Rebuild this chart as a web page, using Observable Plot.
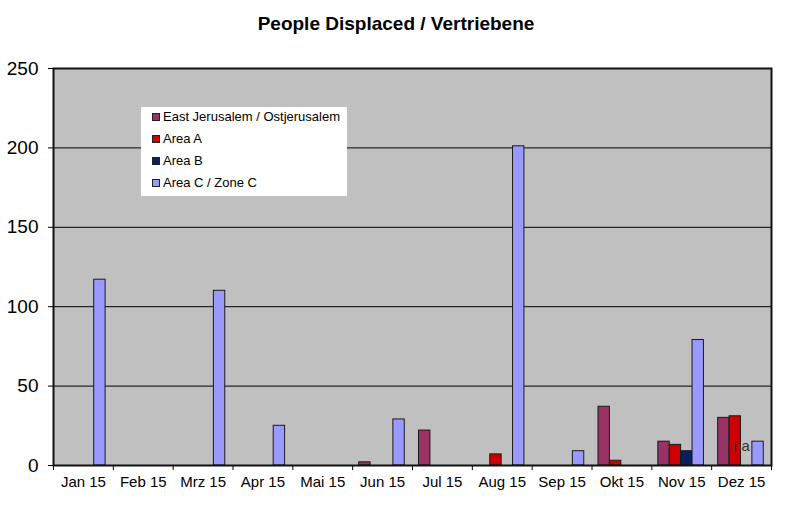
<!DOCTYPE html>
<html>
<head>
<meta charset="utf-8">
<script src="https://cdn.jsdelivr.net/npm/d3@7"></script>
<script src="https://cdn.jsdelivr.net/npm/@observablehq/plot@0.6"></script>
<style>
  body { margin: 0; background: #fff; font-family: Arial, "Liberation Sans", sans-serif; }
  #wrap { position: relative; width: 800px; height: 518px; }
  #title { height: 40px; box-sizing: border-box; padding-top: 13px; padding-right: 8px; text-align: center; font-weight: bold; font-size: 19px; color: #000; }
  #legend { position: absolute; left: 141px; top: 107px; width: 206px; height: 89px; background: #fff; font-size: 13px; color: #000; }
  #legend .row { position: relative; height: 22px; line-height: 22px; display: flex; align-items: center; }
  #legend .sw { width: 6px; height: 6px; border: 1px solid #222; margin-left: 11px; margin-right: 3px; }
  svg { display: block; }
</style>
</head>
<body>
<div id="wrap">
  <div id="title">People Displaced / Vertriebene</div>
  <div id="chart"></div>
  <div id="legend"><div id="legend-inner" style="position:relative;top:-1px"></div></div>
</div>
<script>
// ---- data ----
const months = ["Jan 15", "Feb 15", "Mrz 15", "Apr 15", "Mai 15", "Jun 15", "Jul 15", "Aug 15", "Sep 15", "Okt 15", "Nov 15", "Dez 15"];
const seriesNames = ["East Jerusalem / Ostjerusalem", "Area A", "Area B", "Area C / Zone C"];
const seriesColors = ["#993366", "#cc0000", "#0a1f5c", "#9999ff"];
const eastJerusalem = [0, 0, 0, 0, 0, 2, 22, 0, 0, 37, 15, 30];
const areaA = [0, 0, 0, 0, 0, 0, 0, 7, 0, 3, 13, 31];
const areaB = [0, 0, 0, 0, 0, 0, 0, 0, 0, 0, 9, null];
const areaC = [117, 0, 110, 25, 0, 29, 0, 201, 9, 0, 79, 15];
const naLabels = [{month: "Dez 15", value: 0, label: "na"}];
const yTicks = [0, 50, 100, 150, 200, 250];
const gridValues = [50, 100, 150, 200];

const seriesValues = [eastJerusalem, areaA, areaB, areaC];
const rows = months.flatMap((m, i) => seriesNames.map((s, j) => ({month: m, series: s, value: seriesValues[j][i]})));

// ---- layout ----
const W = 800, H = 478;
const mL = 53, mR = 29, mT = 28, mB = 53;
const bw = (W - mL - mR) / months.length;
const start = 6.5, slot = 11.4;

const barMarks = seriesNames.map((s, j) =>
  Plot.barY(rows.filter(d => d.series === s && d.value > 0), {
    x: "month", y: "value", fill: "series",
    stroke: "#1a1a1a", strokeWidth: 1,
    insetLeft: start + slot * j,
    insetRight: bw - start - slot * (j + 1)
  })
);

const chart = Plot.plot({
  width: W, height: H,
  marginLeft: mL, marginRight: mR, marginTop: mT, marginBottom: mB,
  style: {fontFamily: "Arial, 'Liberation Sans', sans-serif", color: "#000", background: "#fff"},
  x: {type: "band", domain: months, padding: 0, round: false, axis: null},
  y: {domain: [0, 250], axis: null},
  color: {domain: seriesNames, range: seriesColors},
  marks: [
    Plot.frame({fill: "#c0c0c0", stroke: null}),
    Plot.ruleY(gridValues, {stroke: "#000", strokeWidth: 1}),
    ...barMarks,
    Plot.text(naLabels, {x: "month", y: "value", text: "label", dy: -19, fontSize: 15, fill: "#333"}),
    Plot.ruleX(months, {x: d => d, dx: -bw / 2, y1: 0, y2: -3.2, stroke: "#000"}),
    Plot.ruleX([months[months.length - 1]], {x: d => d, dx: bw / 2, y1: 0, y2: -3.2, stroke: "#000"}),
    Plot.frame({stroke: "#111", strokeWidth: 2}),
    Plot.axisY({ticks: yTicks, tickSize: 5, tickPadding: 10, fontSize: 19, label: null, tickFormat: d => String(d)}),
    Plot.axisX({tickSize: 0, tickPadding: 11, fontSize: 15, label: null})
  ]
});
document.getElementById("chart").appendChild(chart);

// ---- legend ----
const inner = document.getElementById("legend-inner");
seriesNames.forEach((s, j) => {
  const row = document.createElement("div");
  row.className = "row";
  const sw = document.createElement("div");
  sw.className = "sw";
  sw.style.background = seriesColors[j];
  const t = document.createElement("span");
  t.textContent = s;
  row.appendChild(sw);
  row.appendChild(t);
  inner.appendChild(row);
});
</script>
</body>
</html>
